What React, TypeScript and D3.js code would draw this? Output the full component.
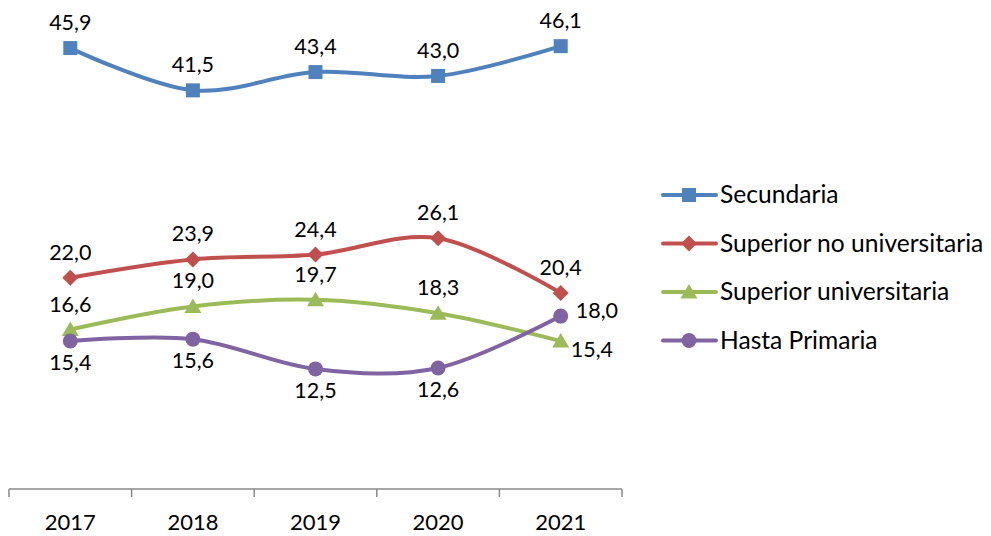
import React from "react";
import * as d3 from "d3";

const years = ["2017", "2018", "2019", "2020", "2021"];
const seriesNames = ["Secundaria", "Superior no universitaria", "Superior universitaria", "Hasta Primaria"];
const secundaria = [45.9, 41.5, 43.4, 43.0, 46.1];
const superiorNoUniv = [22.0, 23.9, 24.4, 26.1, 20.4];
const superiorUniv = [16.6, 19.0, 19.7, 18.3, 15.4];
const hastaPrimaria = [15.4, 15.6, 12.5, 12.6, 18.0];
const colors = ["#4F81BD", "#C0504D", "#9BBB59", "#8064A2"];
const markers = ["square", "diamond", "triangle", "circle"];
// label placement: "above", "below", "right"
const labelPos = [
  ["above", "above", "above", "above", "above"],
  ["above", "above", "above", "above", "above"],
  ["above", "above", "above", "above", "right"],
  ["below", "below", "below", "below", "right"],
];

const FONT = "Lato, 'Open Sans', sans-serif";

function Marker({ type, x, y, color }: { type: string; x: number; y: number; color: string }) {
  if (type === "square") return <rect x={x - 7} y={y - 7} width={14} height={14} fill={color} />;
  if (type === "diamond")
    return <path d={`M${x},${y - 8}L${x + 8},${y}L${x},${y + 8}L${x - 8},${y}Z`} fill={color} />;
  if (type === "triangle")
    return <path d={`M${x},${y - 8}L${x + 8.5},${y + 6.5}L${x - 8.5},${y + 6.5}Z`} fill={color} />;
  return <circle cx={x} cy={y} r={7.5} fill={color} />;
}

export default function App() {
  const data = [secundaria, superiorNoUniv, superiorUniv, hastaPrimaria];
  const x = d3.scaleBand().domain(years).range([9, 622]).padding(0);
  const cx = (y: string) => (x(y) as number) + x.bandwidth() / 2;
  const y = d3.scaleLinear().domain([0, 50]).range([489, 8.7]);
  const line = d3
    .line<number>()
    .x((_, i) => cx(years[i]))
    .y((d) => y(d))
    .curve(d3.curveCardinal.tension(0));
  const fmt = (v: number) => v.toFixed(1).replace(".", ",");
  const ticks = d3.range(years.length + 1).map((i) => 9 + i * x.bandwidth());

  return (
    <svg
      width={991}
      height={536}
      style={{ display: "block", position: "absolute", left: 0, top: 0, fontFamily: FONT }}
    >
      <rect width={991} height={536} fill="#fff" />
      <line x1={9} x2={622} y1={489} y2={489} stroke="#898989" strokeWidth={1.5} />
      {ticks.map((t, i) => (
        <line key={i} x1={t} x2={t} y1={489} y2={497} stroke="#898989" strokeWidth={1.5} />
      ))}
      {years.map((yr) => (
        <text key={yr} x={cx(yr)} y={530} textAnchor="middle" fontSize={22} fill="#000">
          {yr}
        </text>
      ))}
      {data.map((s, si) => (
        <g key={si}>
          <path d={line(s) || ""} fill="none" stroke={colors[si]} strokeWidth={4} strokeLinecap="round" />
          {s.map((v, i) => (
            <Marker key={i} type={markers[si]} x={cx(years[i])} y={y(v)} color={colors[si]} />
          ))}
        </g>
      ))}
      {data.map((s, si) =>
        s.map((v, i) => {
          const px = cx(years[i]);
          const py = y(v);
          const pos = labelPos[si][i];
          let tx = px,
            ty = py - 18,
            anchor: "middle" | "start" = "middle";
          if (pos === "below") ty = py + 29;
          if (pos === "right") {
            anchor = "start";
            if (si === 3) {
              tx = px + 15;
              ty = py + 2;
            } else {
              tx = px + 10;
              ty = py + 16;
            }
          }
          return (
            <text key={`${si}-${i}`} x={tx} y={ty} textAnchor={anchor} fontSize={21.5} fill="#000">
              {fmt(v)}
            </text>
          );
        })
      )}
      {seriesNames.map((n, i) => {
        const ly = 195 + i * 48.5;
        return (
          <g key={n}>
            <line x1={663} x2={716} y1={ly} y2={ly} stroke={colors[i]} strokeWidth={4} strokeLinecap="round" />
            <Marker type={markers[i]} x={689} y={ly} color={colors[i]} />
            <text x={720} y={ly + 8} fontSize={24.6} fill="#000">
              {n}
            </text>
          </g>
        );
      })}
    </svg>
  );
}
